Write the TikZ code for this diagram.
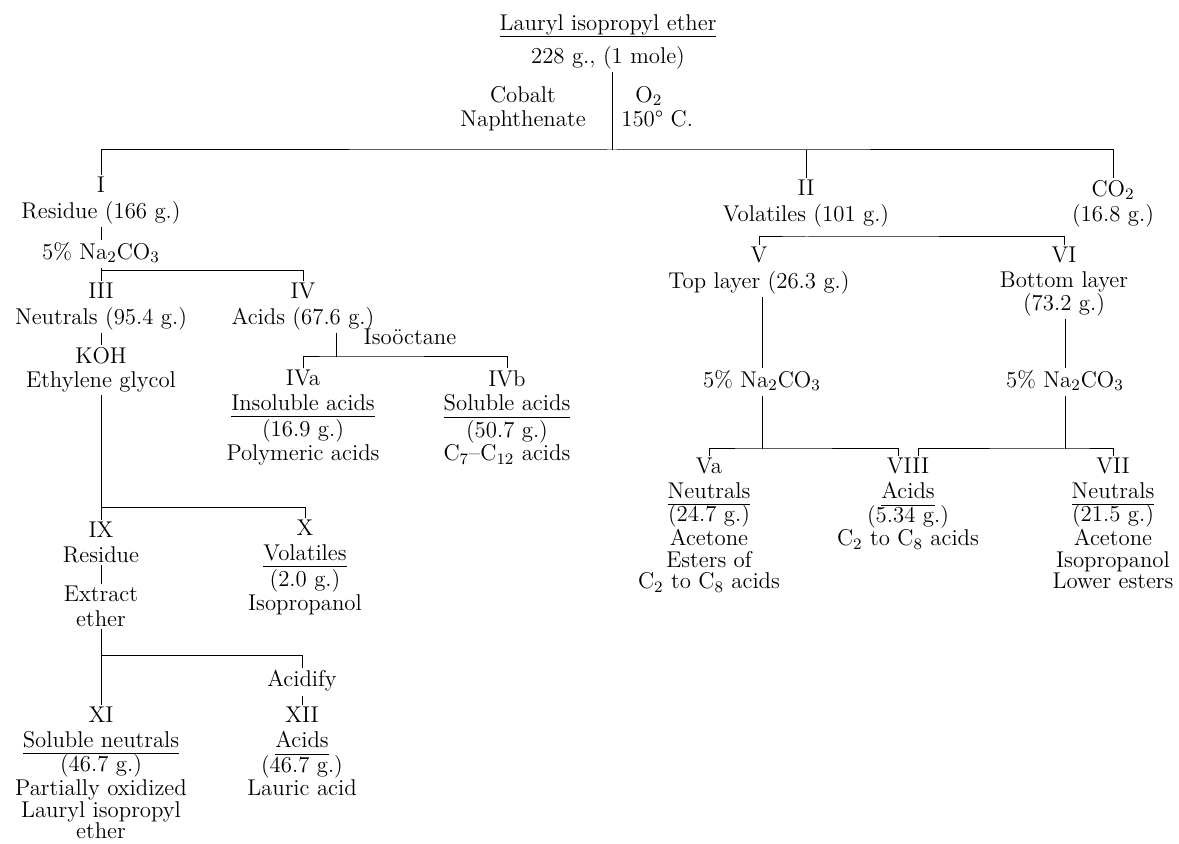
\documentclass[tikz,border=0pt]{standalone}
\newsavebox\undrbox
\newcommand{\undr}[1]{\sbox\undrbox{#1}\rlap{\raisebox{-3.5pt}[0pt][0pt]{\rule{\wd\undrbox}{0.5pt}}}\usebox\undrbox}
\newcommand{\sbs}[1]{\textsubscript{#1}}
\tikzset{
    lab/.style={align=center, anchor=north, yshift=5pt, inner sep=1pt,
    font=\fontsize{11.4}{10.75}\selectfont},
    link/.style={line width=0.5pt},
}

\begin{document}
\begin{tikzpicture}[x=0.5pt, y=-0.5pt]
\useasboundingbox (0,0) rectangle (1179,844);

% --- Ausgangsstoff und Oxidation
\node[lab] (title) at (608,22) {\strut\undr{Lauryl isopropyl ether}\\[4pt]228 g., (1 mole)};
\node[lab] (cat) at (523,94) {\strut Cobalt\\Naphthenate};
\node[lab, align=left, anchor=north west] (cond) at (619,94) {\strut\hspace*{7pt}O\sbs{2}\\150\textdegree\ C.};
\coordinate (stem) at (612,150);
\draw[link] (title.south -| stem) -- (stem);

% --- erste Trennung
\node[lab] (ni)  at (101,185)  {\strut I\\Residue (166 g.)};
\node[lab] (nii) at (806,188)  {\strut II\\Volatiles (101 g.)};
\node[lab] (nco) at (1113,188) {\strut CO\sbs{2}\\(16.8 g.)};
\draw[link] (ni.north) |- (stem) -| (nco.north);
\draw[link] (nii.north) -- (nii.north |- stem);

% --- Rueckstand I
\node[lab] (na1)  at (101,250) {\strut 5\% Na\sbs{2}CO\sbs{3}};
\node[lab] (niii) at (101,291) {\strut III\\Neutrals (95.4 g.)};
\node[lab] (niv)  at (303,291) {\strut IV\\Acids (67.6 g.)};
\coordinate (j1) at (101,271);
\draw[link] (ni.south) -- (na1.north);
\draw[link] (na1.south) -- (niii.north);
\draw[link] (j1) -| (niv.north);

\node[lab] (niso) at (410,337) {\strut Iso\"octane};
\coordinate (j2) at (336,357);
\node[lab] (niva) at (303,378) {\strut IVa\\\undr{Insoluble acids}\\[2.5pt](16.9 g.)\\Polymeric acids};
\node[lab] (nivb) at (507,378) {\strut IVb\\\undr{Soluble acids}\\[2.5pt](50.7 g.)\\C\sbs{7}--C\sbs{12} acids};
\draw[link] (j2 |- niv.south) -- (j2);
\draw[link] (niva.north) |- (j2) -| (nivb.north);

\node[lab] (nkoh) at (101,355) {\strut KOH\\Ethylene glycol};
\draw[link] (niii.south) -- (nkoh.north);

\node[lab] (nix) at (101,530) {\strut IX\\Residue};
\node[lab] (nx)  at (305,528) {\strut X\\\undr{Volatiles}\\[2.5pt](2.0 g.)\\Isopropanol};
\coordinate (j3) at (101,508);
\draw[link] (nkoh.south) -- (nix.north);
\draw[link] (j3) -| (nx.north);

\node[lab] (nex) at (101,594) {\strut Extract\\ether};
\draw[link] (nix.south) -- (nex.north);

\node[lab] (nacid) at (302,678) {\strut Acidify};
\node[lab] (nxi)  at (101,715) {\strut XI\\\undr{Soluble neutrals}\\[1.5pt](46.7 g.)\\Partially oxidized\\Lauryl isopropyl\\ether};
\node[lab] (nxii) at (302,715) {\strut XII\\\undr{Acids}\\[1.5pt](46.7 g.)\\Lauric acid};
\coordinate (j4) at (101,656);
\draw[link] (nex.south) -- (nxi.north);
\draw[link] (j4) -| (nacid.north);
\draw[link] (nacid.south) -- (nxii.north);

% --- Fluechtiges II
\coordinate (j5) at (806,237);
\node[lab] (nv)  at (759,255)  {\strut V\\Top layer (26.3 g.)};
\node[lab] (nvi) at (1064,255) {\strut VI\\Bottom layer\\(73.2 g.)};
\draw[link] (nv.north) |- (j5) -| (nvi.north);

\node[lab] (na2) at (762,378)  {\strut 5\% Na\sbs{2}CO\sbs{3}};
\node[lab] (na3) at (1065,378) {\strut 5\% Na\sbs{2}CO\sbs{3}};
\coordinate (j6) at (762,449);
\coordinate (j7) at (1065,449);
\draw[link] (nv.south -| na2) -- (na2.north);
\draw[link] (nvi.south -| na3) -- (na3.north);
\draw[link] (na2.south) -- (j6);
\draw[link] (na3.south) -- (j7);

\node[lab] (nva)   at (709,466)  {\strut Va\\\undr{Neutrals}\\[1pt](24.7 g.)\\Acetone\\Esters of\\C\sbs{2} to C\sbs{8} acids};
\node[lab] (nviii) at (908,466)  {\strut VIII\\\undr{Acids}\\[1pt](5.34 g.)\\C\sbs{2} to C\sbs{8} acids};
\node[lab] (nvii)  at (1113,466) {\strut VII\\\undr{Neutrals}\\[1pt](21.5 g.)\\Acetone\\Isopropanol\\Lower esters};
\draw[link] (nva.north) |- (j6) -| ([xshift=-5pt]nviii.north);
\draw[link] ([xshift=5pt]nviii.north) |- (j7) -| (nvii.north);

\end{tikzpicture}
\end{document}
